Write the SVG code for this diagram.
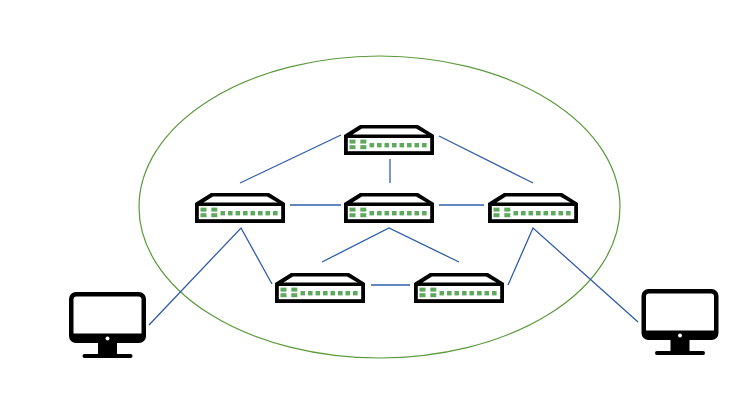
<svg xmlns="http://www.w3.org/2000/svg" width="750" height="412" viewBox="0 0 750 412">
<style>
.conn{fill:none;stroke:#2f5ca8;stroke-width:1.300}
.g{fill:#5fa95f}
.k{fill:#000}
.w{fill:#fff}
</style>
<defs>
<g id="switch">
<path class="k" d="M0,10 L16,0 H74 L90,10 V30 H0 Z"/>
<path class="w" d="M8.500,9.400 L18,3.500 H72 L82.500,9.400 Z"/>
<rect class="w" x="3.800" y="13" width="82.400" height="13.200"/>
<g class="g">
<rect x="5.500" y="14.600" width="6" height="4"/><rect x="5.500" y="20.200" width="6" height="4"/>
<rect x="16.300" y="14.600" width="6" height="4"/><rect x="16.300" y="20.200" width="6" height="4"/>
<rect x="25.500" y="18" width="4.600" height="4.400"/><rect x="33" y="18" width="4.600" height="4.400"/><rect x="40.500" y="18" width="4.600" height="4.400"/><rect x="48" y="18" width="4.600" height="4.400"/><rect x="55.500" y="18" width="4.600" height="4.400"/><rect x="63" y="18" width="4.600" height="4.400"/><rect x="70.500" y="18" width="4.600" height="4.400"/><rect x="78" y="18" width="4.600" height="4.400"/>
</g>
</g>
<g id="monitor">
<rect class="k" x="0" y="0" width="77" height="51" rx="7"/>
<path class="w" d="M4.500,7.500 Q4.500,4.500 7.500,4.500 H69.500 Q72.500,4.500 72.500,7.500 V41.500 H4.500 Z"/>
<circle class="w" cx="38.500" cy="46.500" r="2"/>
<rect class="k" x="29" y="51" width="19" height="11"/>
<rect class="k" x="13.500" y="62" width="50" height="4" rx="2"/>
</g>
</defs>
<rect width="750" height="412" fill="#fff"/>
<ellipse id="boundary" cx="379.500" cy="207" rx="240.500" ry="151" fill="none" stroke="#5b9a3c" stroke-width="1.200"/>
<g id="connectors">
<path class="conn" d="M240,183 L341,135"/>
<path class="conn" d="M439,136 L533,183"/>
<path class="conn" d="M390,159 V183"/>
<path class="conn" d="M290,205 H341"/>
<path class="conn" d="M439,205 H484"/>
<path class="conn" d="M322,262 L389,228 L459,262"/>
<path class="conn" d="M149,325 L241,228 L272,284"/>
<path class="conn" d="M371,285 H410"/>
<path class="conn" d="M508,285 L533,228 L638,322"/>
</g>
<g id="switch-top"><use href="#switch" x="344" y="125"/></g>
<g id="switch-left"><use href="#switch" x="195" y="193"/></g>
<g id="switch-center"><use href="#switch" x="344" y="193"/></g>
<g id="switch-right"><use href="#switch" x="488" y="193"/></g>
<g id="switch-lower-left"><use href="#switch" x="275" y="273"/></g>
<g id="switch-lower-right"><use href="#switch" x="414" y="273"/></g>
<g id="monitor-left"><use href="#monitor" x="69" y="292"/></g>
<g id="monitor-right"><use href="#monitor" x="641.500" y="289"/></g>
</svg>
